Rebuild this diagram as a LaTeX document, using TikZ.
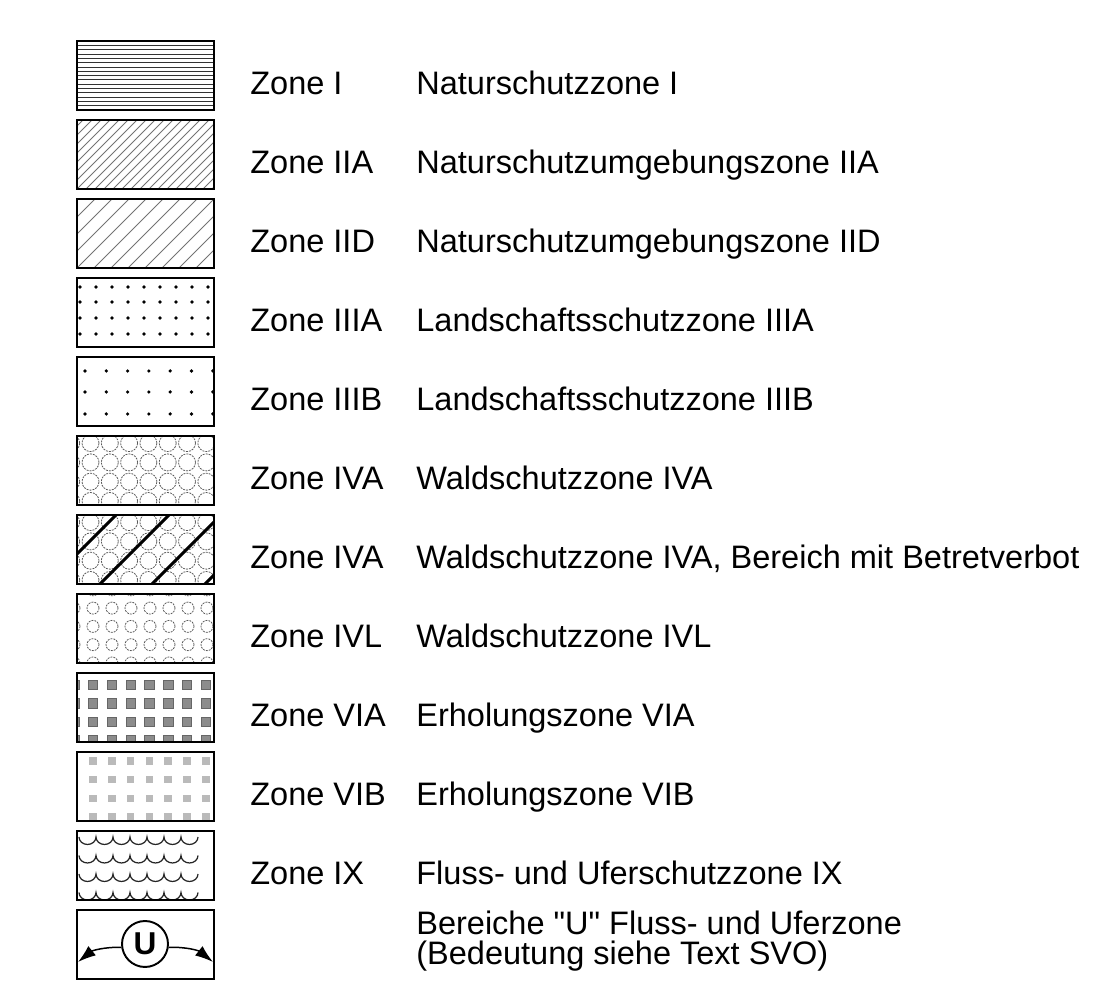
\documentclass[tikz,border=0pt]{standalone}
\usepackage{fontspec}
\setmainfont{Liberation Sans}[Ligatures=TeXOff]
\usetikzlibrary{arrows.meta}

\begin{document}
\begin{tikzpicture}[x=0.02cm, y=0.02cm,
    zonebox/.style={line width=1.1pt},
    legendtext/.style={anchor=base west, inner sep=0pt, font=\fontsize{18.5}{21}\selectfont},
    hatch/.style={line width=0.55pt, black!55},
    ring/.style={line width=0.45pt, black!65, dash pattern=on 1.1pt off 0.6pt},
    wave/.style={line width=0.7pt, black!85},
    uarrow/.style={line width=0.85pt, -{Latex[length=0.36cm, width=0.24cm]}},
  ]
  \useasboundingbox (0,0) rectangle (1112,1007);

  % labels
  \foreach \k/\zn/\ds in {0/I/{Naturschutzzone I}, 1/IIA/{Naturschutzumgebungszone IIA},
      2/IID/{Naturschutzumgebungszone IID}, 3/IIIA/{Landschaftsschutzzone IIIA},
      4/IIIB/{Landschaftsschutzzone IIIB}, 5/IVA/{Waldschutzzone IVA},
      6/IVA/{Waldschutzzone IVA, Bereich mit Betretverbot}, 7/IVL/{Waldschutzzone IVL},
      8/VIA/{Erholungszone VIA}, 9/VIB/{Erholungszone VIB}, 10/IX/{Fluss- und Uferschutzzone IX}}{
    \node[legendtext] (zone\k) at (250, 912-79*\k) {Zone \zn};
    \node[legendtext] (desc\k) at (416, 912-79*\k) {\ds};
  }
  \node[legendtext] (desc11) at (416, 72) {Bereiche "U" Fluss- und Uferzone};
  \node[legendtext] (desc11b) at (416, 42) {(Bedeutung siehe Text SVO)};

  % Zone I
  \begin{scope}[shift={(77,897)}]
    \clip (0,0) rectangle (137,69);
    \foreach \i in {1,...,15} \draw[hatch, black!80] (0,4.3*\i) -- (137,4.3*\i);
  \end{scope}
  % Zone IIA
  \begin{scope}[shift={(77,818)}]
    \clip (0,0) rectangle (137,69);
    \foreach \c in {-72,-63,...,137} \draw[hatch] (\c,0) -- ++(69,69);
  \end{scope}
  % Zone IID
  \begin{scope}[shift={(77,739)}]
    \clip (0,0) rectangle (137,69);
    \foreach \c in {-68,-51,...,137} \draw[hatch] (\c,0) -- ++(69,69);
  \end{scope}
  % Zone IIIA
  \begin{scope}[shift={(77,660)}]
    \foreach \x in {3,19,...,131} \foreach \y in {13,29,45,60} \fill (\x,\y) circle (1.9);
  \end{scope}
  % Zone IIIB
  \begin{scope}[shift={(77,581)}]
    \clip (0,0) rectangle (137,69);
    \foreach \i in {0,...,6} \foreach \y in {12,34,55} \fill (8+21.3*\i,\y) circle (1.8);
  \end{scope}
  % Zone IVA
  \begin{scope}[shift={(77,502)}]
    \clip (0,0) rectangle (137,69);
    \foreach \i in {-1,...,7} \foreach \j in {0,...,3} \draw[ring] (13.5+19.3*\i, 4+19.3*\j) circle (8.5);
  \end{scope}
  % Zone IVA, Betretverbot
  \begin{scope}[shift={(77,423)}]
    \clip (0,0) rectangle (137,69);
    \foreach \i in {-1,...,7} \foreach \j in {0,...,3} \draw[ring] (13.5+19.3*\i, 4+19.3*\j) circle (8.5);
    \foreach \c in {-30,23,75,128} \draw[line width=1.7pt] (\c,0) -- ++(69,69);
  \end{scope}
  % Zone IVL
  \begin{scope}[shift={(77,344)}]
    \clip (0,0) rectangle (137,69);
    \foreach \i in {-1,...,6} \foreach \j in {0,...,4} \draw[ring] (16+19*\i, 18.3*\j) circle (6);
  \end{scope}
  % Zone VIA
  \begin{scope}[shift={(77,265)}]
    \clip (0,0) rectangle (137,69);
    \foreach \i in {-1,...,6} \foreach \j in {0,...,3}
      \filldraw[fill=black!45, draw=black!60, line width=0.3pt] (11.25+18.8*\i, -3.25+18.5*\j) rectangle ++(9.5,9.5);
  \end{scope}
  % Zone VIB
  \begin{scope}[shift={(77,186)}]
    \clip (0,0) rectangle (137,69);
    \foreach \i in {0,...,6} \foreach \j in {0,...,3}
      \fill[black!27] (12.25+18.8*\i, 0.25+18.7*\j) rectangle ++(7.5,7.5);
  \end{scope}
  % Zone IX
  \begin{scope}[shift={(77,107)}]
    \clip (0,0) rectangle (137,69);
    \foreach \y in {7.5,26,44.5,63} \draw[wave] (2,\y) foreach \i in {1,...,7} {arc (180:360:8.5 and 7.5)};
  \end{scope}
  % Bereiche U
  \begin{scope}[shift={(77,28)}]
    \node[draw, circle, line width=1.1pt, minimum size=0.92cm, inner sep=0pt,
      font=\fontsize{18}{18}\selectfont\bfseries] (u) at (68,35) {U};
    \coordinate (uleft) at (1,17);
    \coordinate (uright) at (136,17);
    \draw[uarrow] (u.188) to[bend right=20] (uleft);
    \draw[uarrow] (u.352) to[bend left=20] (uright);
  \end{scope}

  \foreach \k in {0,...,11} \draw[zonebox] (77,897-79*\k) rectangle +(137,69);
\end{tikzpicture}
\end{document}
